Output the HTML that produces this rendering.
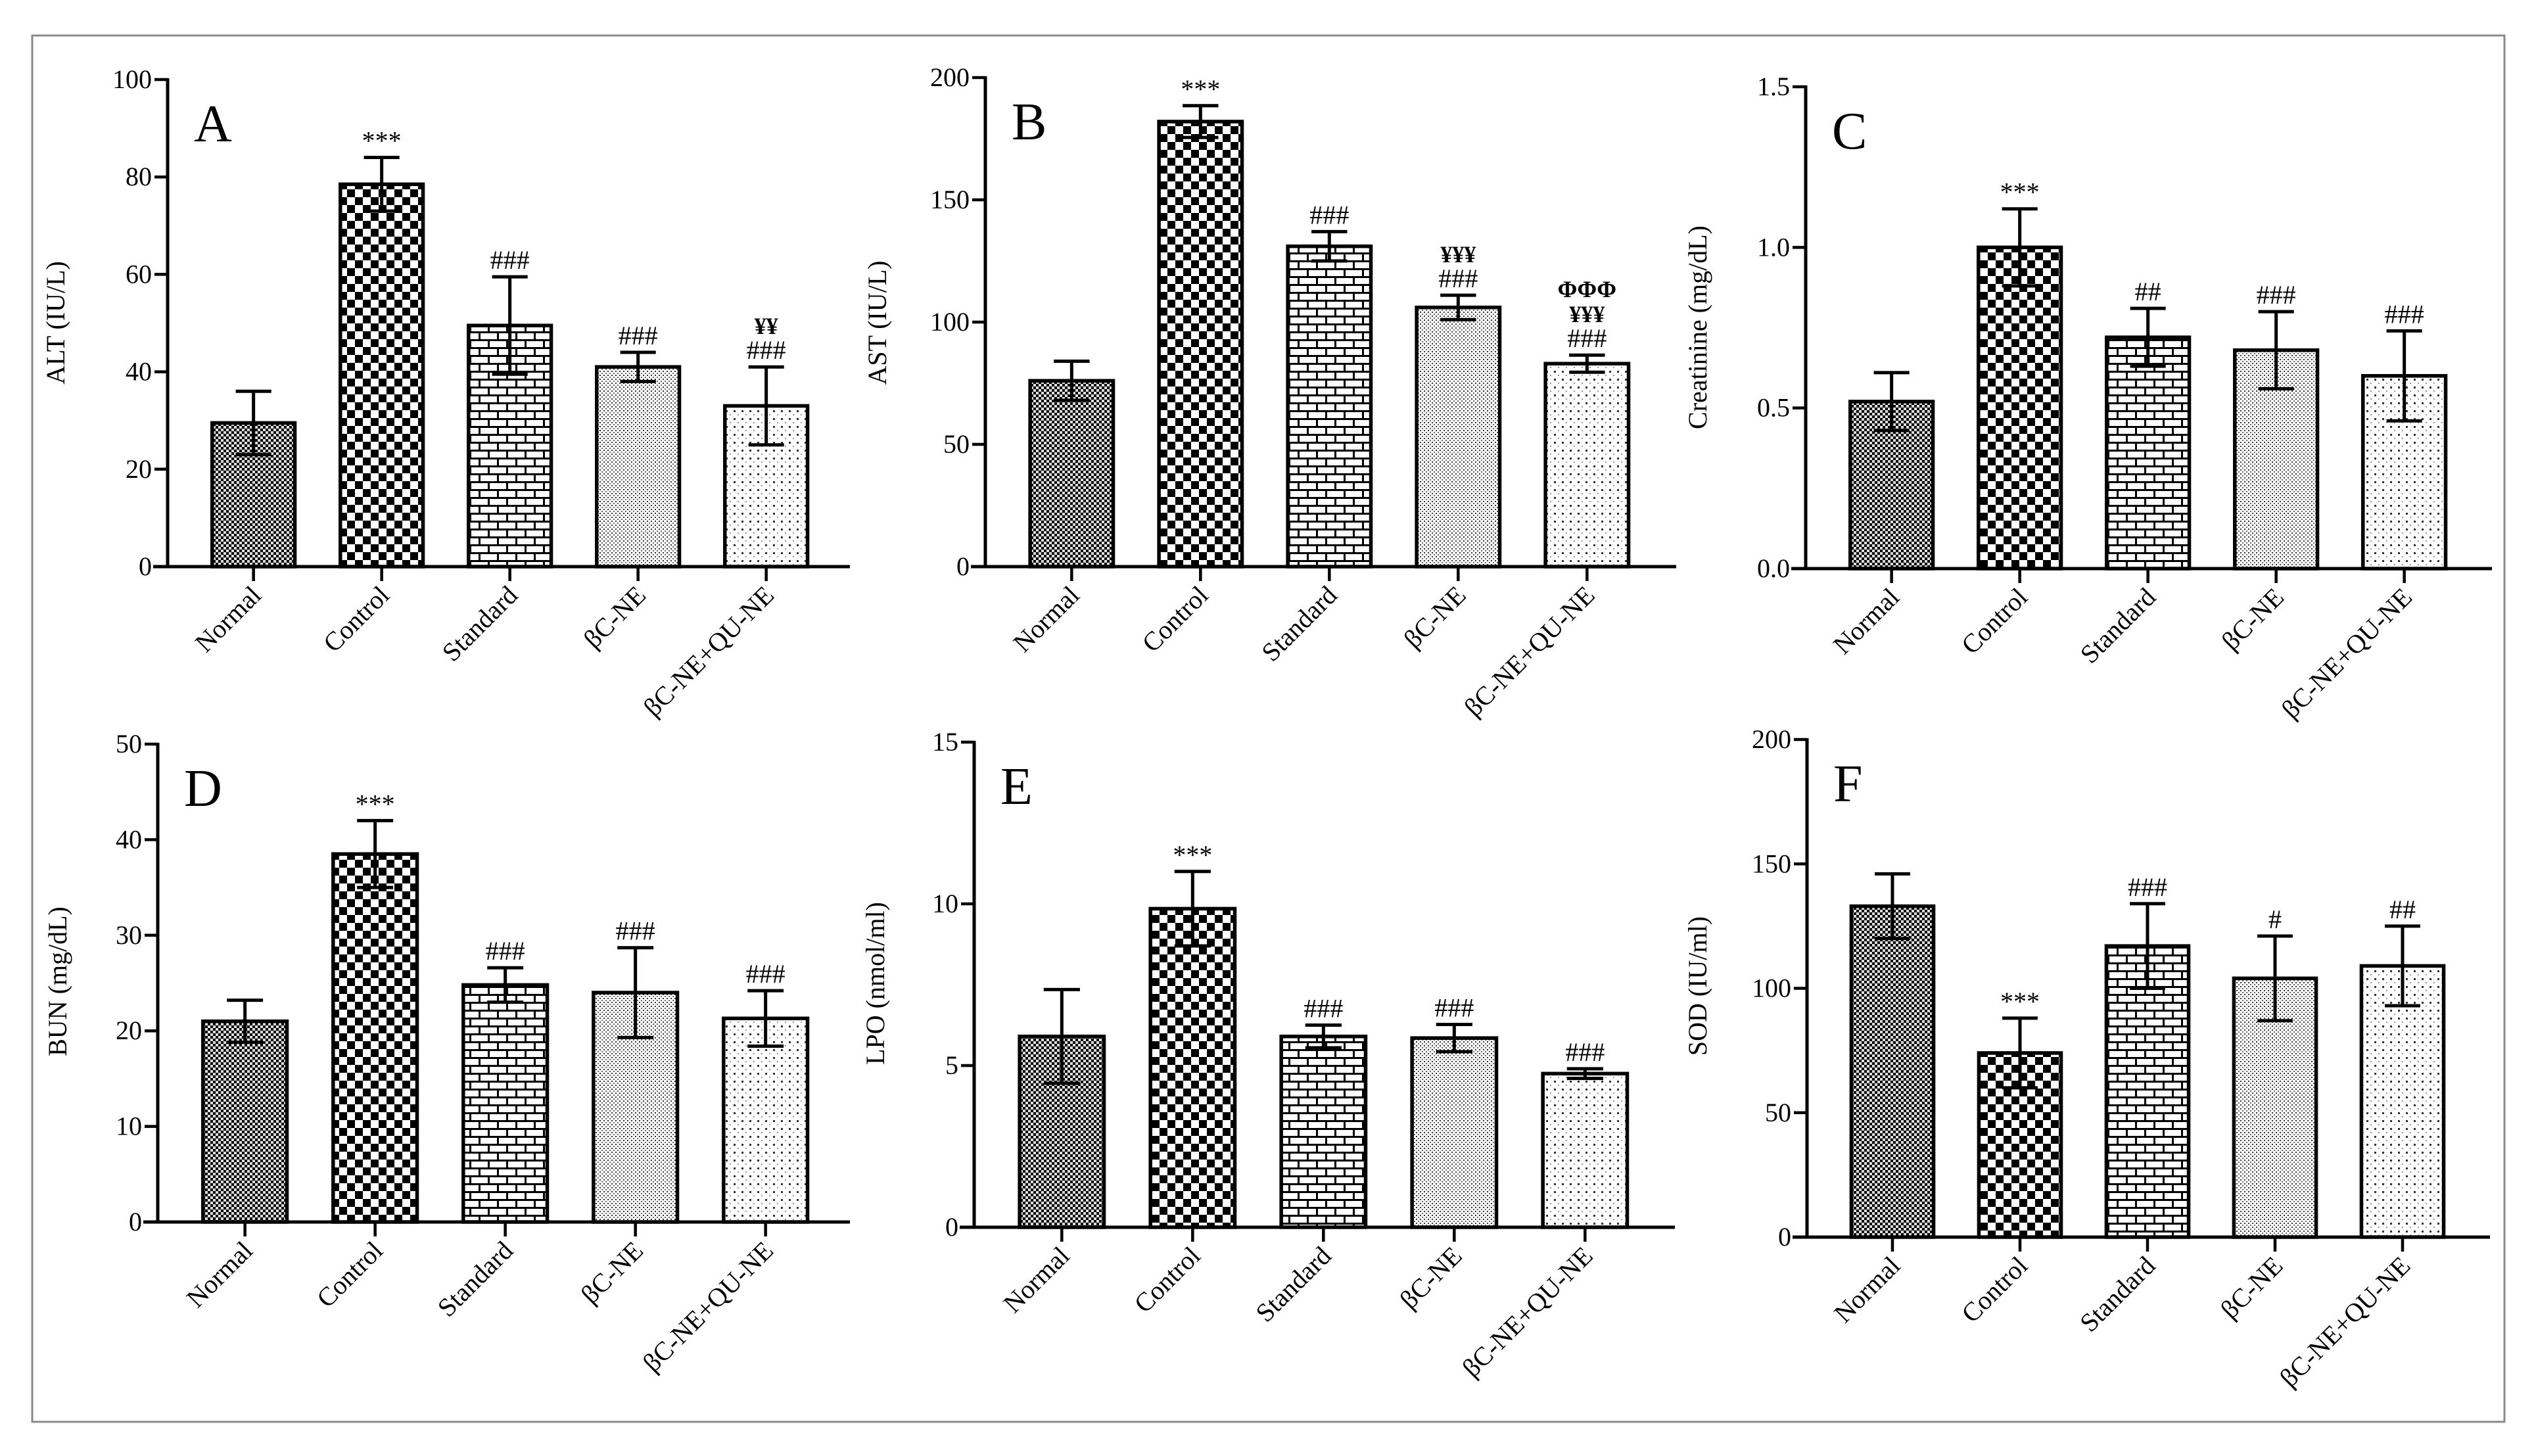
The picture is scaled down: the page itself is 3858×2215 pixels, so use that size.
<!DOCTYPE html>
<html><head><meta charset="utf-8"><style>
html,body{margin:0;padding:0;background:#fff;}
svg{display:block;font-family:"Liberation Serif",serif;}
</style></head><body>
<svg id="fig" width="3858" height="2215" viewBox="0 0 3858 2215" xmlns="http://www.w3.org/2000/svg">
<defs>
<pattern id="p0" width="8" height="8" patternUnits="userSpaceOnUse"><rect width="8" height="8" fill="#ddd"/><rect width="4" height="4" fill="#000"/><rect x="4" y="4" width="4" height="4" fill="#000"/></pattern>
<pattern id="p1" width="24" height="24" patternUnits="userSpaceOnUse"><rect width="24" height="24" fill="#fff"/><rect width="12" height="12" fill="#000"/><rect x="12" y="12" width="12" height="12" fill="#000"/></pattern>
<pattern id="p2" width="28" height="24" patternUnits="userSpaceOnUse"><rect width="28" height="24" fill="#fff"/><rect y="0" width="28" height="3" fill="#000"/><rect y="12" width="28" height="3" fill="#000"/><rect x="0" y="0" width="3" height="12" fill="#000"/><rect x="14" y="12" width="3" height="12" fill="#000"/></pattern>
<pattern id="p3" width="6" height="6" patternUnits="userSpaceOnUse"><rect width="6" height="6" fill="#fff"/><rect width="2" height="2" fill="#333"/><rect x="3" y="3" width="2" height="2" fill="#666"/></pattern>
<pattern id="p4" width="12" height="12" patternUnits="userSpaceOnUse"><rect width="12" height="12" fill="#fff"/><rect width="3" height="3" fill="#333"/><rect x="6" y="6" width="2" height="2" fill="#999"/></pattern>
</defs>
<rect x="49" y="54" width="3761" height="2109" fill="none" stroke="#8a8a8a" stroke-width="3"/>
<g id="root"></g>
</svg>
<script>
const categories = ["Normal","Control","Standard","βC-NE","βC-NE+QU-NE"];
const altMeans = [29.5, 78.5, 49.5, 41, 33];
const altErr = [6.5, 5.5, 10, 3, 8];
const astMeans = [76, 182, 131, 106, 83];
const astErr = [8, 6.5, 6, 5, 3.5];
const creMeans = [0.52, 1.0, 0.72, 0.68, 0.60];
const creErr = [0.09, 0.12, 0.09, 0.12, 0.14];
const bunMeans = [21, 38.5, 24.8, 24, 21.3];
const bunErr = [2.2, 3.5, 1.8, 4.7, 2.9];
const lpoMeans = [5.9, 9.85, 5.9, 5.85, 4.75];
const lpoErr = [1.45, 1.15, 0.35, 0.42, 0.15];
const sodMeans = [133, 74, 117, 104, 109];
const sodErr = [13, 14, 17, 17, 16];
const altTicks = [0,20,40,60,80,100];
const astTicks = [0,50,100,150,200];
const creTicks = ["0.0","0.5","1.0","1.5"];
const bunTicks = [0,10,20,30,40,50];
const lpoTicks = [0,5,10,15];
const sodTicks = [0,50,100,150,200];
const altSig = [[],["***"],["###"],["###"],["¥¥","###"]];
const astSig = [[],["***"],["###"],["¥¥¥","###"],["ΦΦΦ","¥¥¥","###"]];
const creSig = [[],["***"],["##"],["###"],["###"]];
const bunSig = [[],["***"],["###"],["###"],["###"]];
const lpoSig = [[],["***"],["###"],["###"],["###"]];
const sodSig = [[],["***"],["###"],["#"],["##"]];

const panels = [
 {id:"a",letter:"A",title:"ALT (IU/L)",means:altMeans,err:altErr,ticks:altTicks,sig:altSig,ax:255,aend:1293,y0:862,y1:121,step:195,tx:98,ty:491},
 {id:"b",letter:"B",title:"AST (IU/L)",means:astMeans,err:astErr,ticks:astTicks,sig:astSig,ax:1499,aend:2550,y0:862,y1:118,step:196,tx:1348,ty:491},
 {id:"c",letter:"C",title:"Creatinine (mg/dL)",means:creMeans,err:creErr,ticks:creTicks,sig:creSig,ax:2747,aend:3791,y0:865,y1:132,step:195,tx:2596,ty:498},
 {id:"d",letter:"D",title:"BUN (mg/dL)",means:bunMeans,err:bunErr,ticks:bunTicks,sig:bunSig,ax:240,aend:1293,y0:1859,y1:1132,step:198,tx:101,ty:1493},
 {id:"e",letter:"E",title:"LPO (nmol/ml)",means:lpoMeans,err:lpoErr,ticks:lpoTicks,sig:lpoSig,ax:1482,aend:2548,y0:1867,y1:1129,step:199,tx:1345,ty:1496},
 {id:"f",letter:"F",title:"SOD (IU/ml)",means:sodMeans,err:sodErr,ticks:sodTicks,sig:sodSig,ax:2749,aend:3788,y0:1882,y1:1125,step:194,tx:2596,ty:1500}
];
const NS="http://www.w3.org/2000/svg";
const root=document.getElementById("root");
function mk(tag,attrs,parent){const e=document.createElementNS(NS,tag);for(const k in attrs)e.setAttribute(k,attrs[k]);(parent||root).appendChild(e);return e;}
panels.forEach(p=>{
  const g=mk("g",{});
  
  
  const tmax=parseFloat(p.ticks[p.ticks.length-1]);
  const y=v=>p.y0-(v/tmax)*(p.y0-p.y1);
  const cx=i=>p.ax+(i+0.67)*p.step;
  const bw=p.step*0.645;
  p.means.forEach((m,i)=>{
    const r=mk("rect",{x:cx(i)-bw/2,y:y(m),width:bw,height:p.y0-y(m),fill:"url(#p"+i+")",stroke:"#000","stroke-width":5.5},g);
    
    
    const hi=y(m+p.err[i]),lo=y(m-p.err[i]),cw=bw*0.43;
    const eb=mk("path",{d:`M${cx(i)} ${lo}V${hi}M${cx(i)-cw/2} ${hi}H${cx(i)+cw/2}M${cx(i)-cw/2} ${lo}H${cx(i)+cw/2}`,stroke:"#000","stroke-width":5,fill:"none"},g);
    
    
    const lines=p.sig[i];
    lines.forEach((s,k)=>{
      const sym=s.indexOf("Φ")>=0||s.indexOf("¥")>=0;
      const t=mk("text",{x:cx(i),y:hi-12-(lines.length-1-k)*38,"text-anchor":"middle","font-size":sym?36:40,"font-weight":sym?"bold":"normal"},g);
      t.textContent=s;
      
      
    });
  });
  const yax=mk("line",{x1:p.ax,y1:p.y1-2,x2:p.ax,y2:p.y0,stroke:"#000","stroke-width":5},g);
  
  
  const xax=mk("line",{x1:p.ax-22,y1:p.y0,x2:p.aend,y2:p.y0,stroke:"#000","stroke-width":5},g);
  
  
  p.ticks.forEach(tv=>{
    const yy=y(parseFloat(tv));
    mk("line",{x1:p.ax-20,y1:yy,x2:p.ax,y2:yy,stroke:"#000","stroke-width":4.5},g);
    const t=mk("text",{x:p.ax-24,y:yy+13,"text-anchor":"end","font-size":40},g);
    t.textContent=String(tv);
    
    
  });
  categories.forEach((c,i)=>{
    mk("line",{x1:cx(i),y1:p.y0,x2:cx(i),y2:p.y0+22,stroke:"#000","stroke-width":4.5},g);
    const t=mk("text",{transform:`translate(${cx(i)+14},${p.y0+46}) rotate(-45)`,"text-anchor":"end","font-size":40},g);
    t.textContent=c;
    
    
  });
  const tt=mk("text",{transform:`translate(${p.tx},${p.ty}) rotate(-90)`,"text-anchor":"middle","font-size":40},g);
  tt.textContent=p.title;
  
  
  const lt=mk("text",{x:p.ax+40,y:p.y1+94,"font-size":80},g);
  lt.textContent=p.letter;
  
  
});
</script>
</body></html>
